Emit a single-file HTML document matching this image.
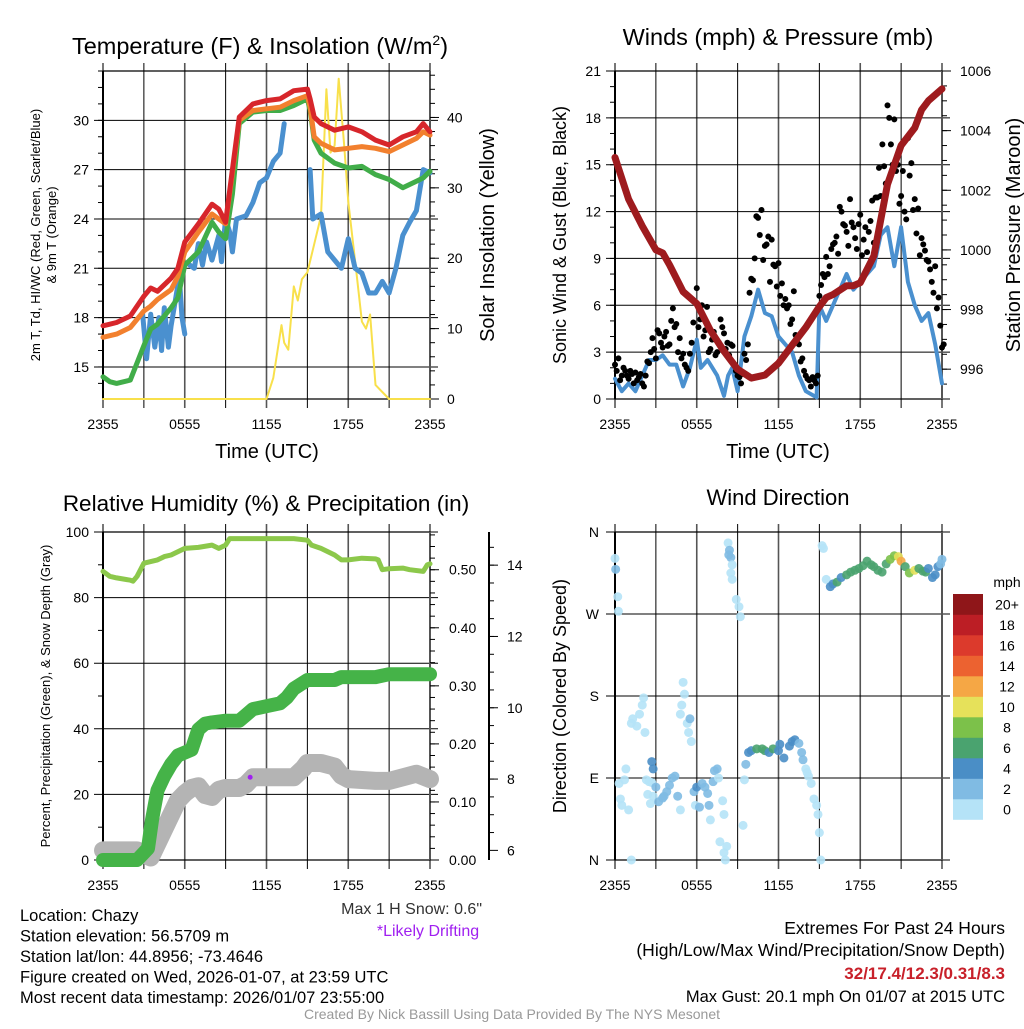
<!DOCTYPE html>
<html><head><meta charset="utf-8"><title>Mesonet Station Summary</title>
<style>
html,body{margin:0;padding:0;background:#fff;}
body{width:1024px;height:1024px;overflow:hidden;font-family:"Liberation Sans",sans-serif;}
svg text{font-family:"Liberation Sans",sans-serif;fill:#000;}
</style></head>
<body>
<svg id="fig" width="1024" height="1024" viewBox="0 0 1024 1024" xmlns="http://www.w3.org/2000/svg"></svg>
<script>
// ---------- DATA ----------
const xTickLabels = ["2355","0555","1155","1755","2355"];
const redT = [0,0.5,1,2,3,3.5,4,5,5.5,6,7,8,8.5,9,9.5,10,11,12,13,14,15,15.2,15.5,16,17,18,19,20,21,22,23,23.5,24];
const redV = [17.5,17.6,17.7,18.1,19.3,19.8,19.6,20.4,21.0,22.6,23.7,24.9,24.6,23.8,27.0,30.2,31.0,31.2,31.3,31.8,31.9,31.3,30.2,29.8,29.4,29.6,29.3,28.8,28.5,29.0,29.3,29.8,29.3];
const orangeV = [16.8,16.9,17.0,17.4,18.4,18.7,19.1,19.7,20.5,22.0,23.2,24.3,24.0,23.7,26.8,30.0,30.6,30.7,30.8,31.2,31.5,30.8,29.0,28.6,28.2,28.3,28.4,28.3,28.1,28.5,28.9,29.3,29.1];
const greenV = [14.4,14.1,14.0,14.2,16.3,17.3,17.6,18.6,19.2,21.2,22.0,23.8,23.2,22.8,25.5,29.8,30.5,30.6,30.6,30.9,31.3,30.6,28.8,28.0,27.4,27.1,27.2,26.7,26.4,25.9,26.3,26.5,26.9];
const dewT1 = [2.9,3.2,3.5,3.8,4.1,4.3,4.5,4.8,5.0,5.3,5.6,5.8,6.0];
const dewV1 = [18.3,15.5,18.2,16.2,18.0,16.0,18.6,16.2,17.5,19.0,20.5,18.0,17.0];
const dewT2 = [6.2,6.7,7.0,7.3,7.6,8.0,8.5,8.7,9.0,9.3,9.5,9.8,10.5,11,11.5,12,12.5,13,13.3];
const dewV2 = [21.3,21.0,22.5,21.2,22.6,21.5,23.0,21.4,24.0,23.2,22.0,24.0,24.2,25.0,26.2,26.5,27.5,28.0,29.8];
const dewT3 = [15.2,15.4,16,16.5,17,17.5,18,18.5,19,19.5,20,20.5,21,21.5,22,22.5,23,23.5,24];
const dewV3 = [27.0,24.0,24.3,22.0,21.5,21.0,22.8,21.0,20.7,19.5,19.5,20.2,19.5,21.0,23.0,23.8,24.5,27.0,26.8];
const solarT = [0,12,12.5,13.1,13.3,13.6,14,14.3,14.6,15,15.5,16,16.4,16.7,17.0,17.3,17.7,18.0,18.6,19,19.3,19.6,20,20.5,21,24];
const solarV = [0,0,3,10.5,8,7,16,14,17,18,22,26,44,35,36,45.5,36,28,18,11,10,12,2,1,0,0];
const windT = [0,0.5,1,1.5,2,2.5,3,3.5,4,4.5,5,5.5,6,6.3,6.8,7.5,8,8.3,8.6,9,9.5,10,10.5,11,11.5,12,12.5,13,13.5,14,14.8,15,15.5,16,16.5,17,17.5,18,18.5,19,19.5,20,20.5,21,21.5,22,22.5,23,23.5,24];
const windV = [1.3,0.5,1.0,0.5,1.5,2.5,2.5,2.8,2.2,2.2,0.8,2.0,3.8,2.0,2.5,1.5,0.2,1.5,2.0,0.5,4.0,5.3,7.0,5.5,5.3,4.0,3.5,3.0,1.5,0.5,0.1,6.0,5.0,6.0,7.0,8.0,7.0,7.5,8.0,8.5,10.5,11.0,8.5,11.0,7.5,6.0,5.0,5.5,3.5,1.0];
const gustV = [2.2,2.6,1.5,1.8,1.3,1.6,1.7,1.4,1.0,1.5,
 2.3,3.9,2.6,4.2,3.3,4.3,3.5,5.8,4.8,3.9,
 2.9,2.0,2.9,4.9,7.1,5.1,4.0,5.9,3.2,4.3,
 3.0,5.1,4.2,3.6,3.5,2.2,1.5,1.0,2.9,3.5,
 7.7,9.0,11.6,12.1,9.8,10.4,10.2,8.5,8.7,7.4,
 6.4,6.0,5.1,4.1,3.5,2.6,1.5,1.2,1.4,1.0,
 6.6,8.0,9.1,8.5,9.9,10.4,12.3,11.2,10.7,12.8,
 11.0,9.6,11.8,10.2,9.4,11.4,10.0,12.9,13.0,14.9,
 18.8,16.3,17.9,15.0,13.0,12.0,16.7,15.1,12.8,12.2,
 10.3,9.5,8.8,7.5,8.5,6.5,3.3];
const gustV2 = [1.8,1.2,2.0,1.5,1.8,1.0,1.2,1.6,0.8,2.4,
 3.0,3.2,4.4,3.6,4.0,3.4,5.0,4.6,3.0,2.6,
 2.2,1.8,3.6,6.2,4.6,6.0,4.4,3.0,3.8,2.8,
 3.6,4.6,3.2,2.8,3.4,1.8,1.4,1.6,2.5,6.8,
 7.6,11.7,10.5,8.9,9.9,7.5,8.6,7.2,6.6,6.0,
 5.8,4.8,6.9,3.6,2.4,1.8,1.3,0.8,1.2,1.5,
 7.3,7.8,8.0,9.6,10.0,9.3,12.0,11.1,9.8,11.3,
 10.3,11.2,9.2,11.0,10.7,12.7,12.9,14.8,16.3,13.8,
 18.0,15.0,14.6,12.5,14.6,11.5,14.3,12.1,10.6,9.2,
 9.9,8.9,8.3,6.8,5.8,4.7,3.5];
const presT = [0,1,2,3,3.5,4,5,6,7,8,9,10,11,12,13,14,15,15.5,16,17,17.5,18,19,19.5,20,21,22,22.5,23,24];
const presV = [1003.1,1001.7,1000.8,1000.0,999.9,999.5,998.6,998.2,997.3,996.6,996.0,995.7,995.8,996.2,996.8,997.4,998.1,998.4,998.5,998.8,998.8,998.9,999.8,1001.0,1002.2,1003.5,1004.1,1004.7,1005.0,1005.4];
const rhT = [0,0.5,1,2,2.2,2.5,3,4,4.5,5,6,7,8,8.5,9,9.3,10,12,14,15,15.3,16,17,17.5,18,19,20,20.2,20.5,21,22,22.5,23.5,23.8,24];
const rhV = [88,86.5,86,85.3,85,86.5,90.5,91.5,92.5,93,95,95.3,96,95,96,98,98,98,98,97.5,96,95,93,91.5,91.5,92,91.8,91.5,88.5,88.8,89,88.5,88,90,90.3];
const precipT = [0,2.5,3.3,3.6,4.0,4.5,5,5.5,6,6.5,7.0,7.5,8,9,10,10.5,11,12,13,13.5,14,15,16,17,17.5,20,21,24];
const precipV = [0,0,0.02,0.07,0.12,0.145,0.165,0.18,0.185,0.19,0.225,0.235,0.237,0.24,0.24,0.25,0.26,0.265,0.27,0.28,0.295,0.31,0.31,0.31,0.315,0.315,0.32,0.32];
const snowT = [0,2.5,3.5,4,4.5,5,5.5,6,6.5,7,7.5,8,8.5,9,10,10.5,11,12,13,14,14.7,15,16,17,17.5,18,20,21,22,23,24];
const snowV = [6.0,6.0,5.8,6.2,6.6,7.0,7.4,7.6,7.75,7.8,7.55,7.5,7.7,7.75,7.75,7.85,8.05,8.05,8.05,8.05,8.3,8.45,8.45,8.35,8.1,8.0,7.95,7.95,8.05,8.15,8.0];
const driftT = [10.8];
const driftV = [8.05];
const dirT = [0,0.05,0.2,0.25,0.3,0.4,0.5,0.7,0.8,1,1.2,1.2,1.3,1.6,1.8,2,2.1,2.2,2.3,2.4,2.5,2.6,2.8,2.7,2.7,2.8,3.0,3.2,3.5,3.6,3.8,4.0,4.2,4.4,4.6,4.8,4.8,4.9,5.0,5.1,5.3,5.4,5.5,5.6,5.8,5.9,6.0,6.2,6.4,6.6,6.8,6.9,7.2,7.3,7.0,7.5,7.6,7.7,7.9,8.0,8.0,8.1,8.2,8.3,8.35,8.4,8.5,8.6,8.5,8.6,8.9,9.1,9.2,9.4,9.5,9.6,9.8,10,10.4,10.8,11,11.3,11.6,12,12.1,12.4,12.8,13.0,13.2,13.5,13.7,13.8,14.0,14.1,14.2,14.4,14.6,14.8,14.9,15.0,15.1,15.2,15.3,15.5,15.8,16.0,16.3,16.6,17.0,17.3,17.6,17.9,18.2,18.5,18.8,19.0,19.3,19.6,19.9,20.2,20.5,20.8,21.0,21.3,21.6,22.0,22.3,22.6,22.8,23.0,23.3,23.5,23.7,23.9,24];
const dirV = [331,319,289,273,84,67,60,88,100,55,0,150,155,147,160,170,178,140,88,72,86,62,70,85,108,100,80,64,68,70,75,82,90,92,70,55,160,170,195,182,150,140,155,130,75,60,80,58,84,80,73,60,86,98,44,100,90,20,65,50,8,0,15,348,335,340,332,324,315,308,286,278,267,38,88,105,118,120,122,122,120,118,122,120,127,112,125,130,132,128,118,110,100,96,92,84,67,60,50,30,0,345,342,308,300,303,305,310,313,316,318,320,323,328,324,322,318,316,325,330,334,333,328,322,315,318,320,317,316,320,310,313,322,325,330,333,328];
const dirS = [1,3,1,1,1,1,1,1,1,1,1,1,1,1,1,1,1,1,1,1,1,1,1,1,4,4,3,3,3,3,3,3,3,3,3,1,1,1,1,1,1,1,3,1,3,1,5,3,3,3,3,3,2,3,1,3,1,1,1,1,1,1,1,1,3,3,3,1,1,1,1,1,1,1,1,3,4,5,6,6,6,4,6,4,4,4,4,4,4,3,3,2,1,1,1,1,1,1,1,1,1,1,1,1,4,5,6,4,6,6,6,7,7,6,6,6,6,6,7,8,9,11,12,7,8,10,6,6,6,4,4,4,4,3,2,1,3];
const cbLabels = ["0","2","4","6","8","10","12","14","16","18","20+"];
const cbColors = ["#b5e3f7","#80bbe3","#4a8ec6","#4aa36f","#7cc14a","#e6e15a","#f5a745","#ec6230","#dc3a2c","#bc1e25","#8f1619"];

// ---------- DRAWING ----------
const svg = document.getElementById('fig');
const NS = "http://www.w3.org/2000/svg";
function mk(tag, attrs, parent){
  const e = document.createElementNS(NS, tag);
  for (const k in attrs) e.setAttribute(k, attrs[k]);
  (parent||svg).appendChild(e);
  return e;
}
function txt(s, x, y, size, anchor, parent, extra){
  const t = mk('text', Object.assign({x:x, y:y, 'font-size':size, 'text-anchor':anchor||'middle'}, extra||{}), parent);
  t.textContent = s;
  return t;
}
function scaleX(p){ return t => p.x0 + t/24*(p.x1-p.x0); }
function scaleY(p, lo, hi){ return v => p.y1 - (v-lo)/(hi-lo)*(p.y1-p.y0); }
function pathFrom(ts, vs, sx, sy){
  let d = '';
  for (let i=0;i<ts.length;i++) d += (i?'L':'M') + sx(ts[i]).toFixed(1) + ',' + sy(vs[i]).toFixed(1);
  return d;
}
function frame(p, name, yTicks, sy){
  const g = mk('g', {});
  
  
  for (let h=0; h<=24; h+=3){
    const x = p.x0 + h/24*(p.x1-p.x0);
    const major = h%6===0;
    const l = mk('line', {x1:x, x2:x, y1:p.y0-8, y2:p.y1+9, stroke: major?'#555':'#000', 'stroke-width': major?1.6:1}, g);
    
    
  }
  yTicks.forEach(v => {
    const y = sy(v);
    const l = mk('line', {x1:p.x0-9, x2:p.x1+8, y1:y, y2:y, stroke:'#000', 'stroke-width':1}, g);
    
    
  });
  mk('line', {x1:p.x0, x2:p.x1, y1:p.y0, y2:p.y0, stroke:'#000','stroke-width':1.2}, g);
  mk('line', {x1:p.x0, x2:p.x1, y1:p.y1, y2:p.y1, stroke:'#000','stroke-width':1.2}, g);
  mk('line', {x1:p.x0, x2:p.x0, y1:p.y0, y2:p.y1, stroke:'#000','stroke-width':2}, g);
  mk('line', {x1:p.x1, x2:p.x1, y1:p.y0, y2:p.y1, stroke:'#555','stroke-width':2}, g);
  xTickLabels.forEach((s,i) => {
    const t = txt(s, p.x0 + i*6/24*(p.x1-p.x0), p.y1+30, 14, 'middle', g);
    
    
  });
  return g;
}
function leftLabels(p, vals, sy, fmt, name){
  vals.forEach(v => {
    const t = txt(fmt(v), p.x0-14, sy(v)+5, 14, 'end');
    
    
  });
}
function rightAxis(p, x, majors, minors, sy, fmt, name, lx){
  const g = mk('g', {});
  
  
  minors.forEach(v => mk('line', {x1:x, x2:x+5, y1:sy(v), y2:sy(v), stroke:'#000','stroke-width':1}, g));
  majors.forEach(v => {
    mk('line', {x1:x, x2:x+9, y1:sy(v), y2:sy(v), stroke:'#000','stroke-width':1}, g);
    const t = txt(fmt(v), lx, sy(v)+5, 14, 'start', g);
    
    
  });
  return g;
}
function rot(s, x, y, size, name){
  const t = txt(s, x, y, size, 'middle', svg, {transform:`rotate(-90 ${x} ${y})`});
  
  
  return t;
}
function line(ts, vs, sx, sy, color, w, name, op){
  const e = mk('path', {d:pathFrom(ts,vs,sx,sy), fill:'none', stroke:color, 'stroke-width':w, 'stroke-linecap':'round', 'stroke-linejoin':'round', opacity: op||1});
  
  
  return e;
}
function range(a,b,s){ const r=[]; for(let v=a; v<=b+1e-9; v+=s) r.push(+v.toFixed(4)); return r; }

// ===== Panel 1 =====
const P1 = {x0:103, x1:430, y0:71, y1:399};
const sx1 = scaleX(P1), sy1 = scaleY(P1, 13.05, 33), syS = scaleY(P1, 0, 46.6);
frame(P1, 'temperature', [15,18,21,24,27,30], sy1);
range(14,33,1).forEach(v => mk('line', {x1:P1.x0-5, x2:P1.x0, y1:sy1(v), y2:sy1(v), stroke:'#000'}));
leftLabels(P1, [15,18,21,24,27,30], sy1, v=>String(v), 'temperature-tick-label');
rightAxis(P1, P1.x1, [0,10,20,30,40], range(2,46,2), syS, v=>String(v), 'insolation-axis', 447);
line(solarT, solarV, sx1, syS, '#f8e04b', 2, 'insolation-line');
line(dewT1, dewV1, sx1, sy1, '#4a90cf', 5, 'dewpoint-line-1');
line(dewT2, dewV2, sx1, sy1, '#4a90cf', 5, 'dewpoint-line-2');
line(dewT3, dewV3, sx1, sy1, '#4a90cf', 5, 'dewpoint-line-3');
line(redT, greenV, sx1, sy1, '#41ad49', 5, 'hi-wc-line');
line(redT, orangeV, sx1, sy1, '#f2802e', 5, 'temp-9m-line');
line(redT, redV, sx1, sy1, '#d7262b', 5, 'temp-2m-line');
(function(){ const t=txt('Temperature (F) & Insolation (W/m', 260, 54, 23.5, 'middle'); const s=mk('tspan',{dy:-9,'font-size':14},t); s.textContent='2'; const s2=mk('tspan',{dy:9,'font-size':23.5},t); s2.textContent=')';   })();
rot('2m T, Td, HI/WC (Red, Green, Scarlet/Blue)', 40, 235, 13, 'temperature-y-title-1');
rot('& 9m T (Orange)', 56, 235, 13, 'temperature-y-title-2');
rot('Solar Insolation (Yellow)', 494, 235, 20, 'insolation-y-title');
(function(){ const t=txt('Time (UTC)',267,458,20,'middle');   })();

// ===== Panel 2 =====
const P2 = {x0:615, x1:942, y0:71, y1:399};
const sx2 = scaleX(P2), sy2 = scaleY(P2, 0, 21), syP = scaleY(P2, 995, 1006);
frame(P2, 'winds', [0,3,6,9,12,15,18,21], sy2);
range(1,20,1).forEach(v => mk('line', {x1:P2.x0-5, x2:P2.x0, y1:sy2(v), y2:sy2(v), stroke:'#000'}));
leftLabels(P2, [0,3,6,9,12,15,18,21], sy2, v=>String(v), 'wind-tick-label');
rightAxis(P2, P2.x1, [996,998,1000,1002,1004,1006], range(995.5,1006,0.5), syP, v=>String(v), 'pressure-axis', 960);
line(windT, windV, sx2, sy2, '#4a90cf', 4, 'sonic-wind-line');
gustV.forEach((v,i) => {
  const c = mk('circle', {cx:sx2(i*0.25), cy:sy2(v), r:3, fill:'#000'});
  
  
});
gustV2.forEach((v,i) => {
  const c = mk('circle', {cx:sx2(i*0.25+0.125), cy:sy2(v), r:3, fill:'#000'});
  
  
});
line(presT, presV, sx2, syP, '#9e1b1e', 7, 'pressure-line');
(function(){ const t=txt('Winds (mph) & Pressure (mb)',778,45,23.5,'middle');   })();
rot('Sonic Wind & Gust (Blue, Black)', 566, 235, 18, 'wind-y-title');
rot('Station Pressure (Maroon)', 1020, 235, 20, 'pressure-y-title');
(function(){ const t=txt('Time (UTC)',778,458,20,'middle');   })();

// ===== Panel 3 =====
const P3 = {x0:103, x1:430, y0:532, y1:860};
const sx3 = scaleX(P3), sy3 = scaleY(P3, 0, 100), syR = scaleY(P3, 0, 0.565), sySn = scaleY(P3, 5.73, 14.93);
frame(P3, 'humidity', [0,20,40,60,80,100], sy3);
range(10,90,20).forEach(v => mk('line', {x1:P3.x0-5, x2:P3.x0, y1:sy3(v), y2:sy3(v), stroke:'#000'}));
leftLabels(P3, [0,20,40,60,80,100], sy3, v=>String(v), 'humidity-tick-label');
rightAxis(P3, P3.x1, [0,0.1,0.2,0.3,0.4,0.5], range(0.02,0.56,0.02), syR, v=>v.toFixed(2), 'precip-axis', 449);
(function(){
  const g = rightAxis(P3, 489, [6,8,10,12,14], range(6.5,14.5,0.5), sySn, v=>String(v), 'snow-depth-axis', 507);
  mk('line', {x1:489, x2:489, y1:P3.y0, y2:P3.y1, stroke:'#000','stroke-width':2}, g);
})();
line(snowT, snowV, sx3, sySn, '#b4b4b4', 18, 'snow-depth-line');
line(precipT, precipV, sx3, syR, '#45b348', 14, 'precip-line');
line(rhT, rhV, sx3, sy3, '#8cc84b', 5, 'rh-line');
driftT.forEach((t,i) => {
  const c = mk('circle', {cx:sx3(t), cy:sySn(driftV[i]), r:2.5, fill:'#a020f0'});
  
  
});
(function(){ const t=txt('Relative Humidity (%) & Precipitation (in)',266,511,22.5,'middle');   })();
rot('Percent, Precipitation (Green), & Snow Depth (Gray)', 50, 696, 13, 'humidity-y-title');

// ===== Panel 4 =====
const P4 = {x0:615, x1:942, y0:532, y1:860};
const sx4 = scaleX(P4), sy4 = scaleY(P4, 0, 360);
frame(P4, 'wind-direction', [0,90,180,270,360], sy4);
const dirNames = ['N','E','S','W','N'];
[0,90,180,270,360].forEach((v,i) => {
  const t = txt(dirNames[i], P4.x0-16, sy4(v)+5, 14, 'end');
  
  
});
dirT.forEach((t,i) => {
  const bin = Math.min(10, Math.floor(dirS[i]/2));
  const c = mk('circle', {cx:sx4(t), cy:sy4(dirV[i]), r:4.5, fill:cbColors[bin], opacity:0.9});
  
  
});
(function(){ const t=txt('Wind Direction',778,505,22,'middle');   })();
rot('Direction (Colored By Speed)', 566, 696, 18, 'direction-y-title');
(function(){
  const g = mk('g', {});
  
  
  const top = 594, h = 20.5;
  cbColors.forEach((c,i) => {
    const y = top + (10-i)*h;
    mk('rect', {x:953, y:y, width:30, height:h+0.3, fill:c}, g);
    const t = txt(cbLabels[i], 1007, y+h/2+5, 14, 'middle', g);
    
    
  });
  const m = txt('mph', 1007, 587, 14, 'middle', g);
  
  
})();

// ===== Text blocks =====
const infoLines = ["Location: Chazy","Station elevation: 56.5709 m","Station lat/lon: 44.8956; -73.4646","Figure created on Wed, 2026-01-07, at 23:59 UTC","Most recent data timestamp: 2026/01/07 23:55:00"];
infoLines.forEach((s,i) => {
  const t = txt(s, 20, 921 + i*20.5, 16.5, 'start');
  
  
});
(function(){
  let t = txt('Max 1 H Snow: 0.6"', 482, 914, 16, 'end', svg);
  t.style.fill = '#333';
   
  t = txt('*Likely Drifting', 428, 936, 16, 'middle', svg);
  t.style.fill = '#a020f0';
   
  t = txt('Extremes For Past 24 Hours', 1005, 934, 17.5, 'end');
   
  t = txt('(High/Low/Max Wind/Precipitation/Snow Depth)', 1005, 956, 17.5, 'end');
   
  t = txt('32/17.4/12.3/0.31/8.3', 1005, 979, 17, 'end', svg, {'font-weight':'bold'});
  t.style.fill = '#c8202a';
   
  t = txt('Max Gust: 20.1 mph On 01/07 at 2015 UTC', 1005, 1002, 16.5, 'end');
   
  t = txt('Created By Nick Bassill Using Data Provided By The NYS Mesonet', 512, 1019, 14, 'middle');
  t.style.fill = '#999';
   
})();
</script>
</body></html>
